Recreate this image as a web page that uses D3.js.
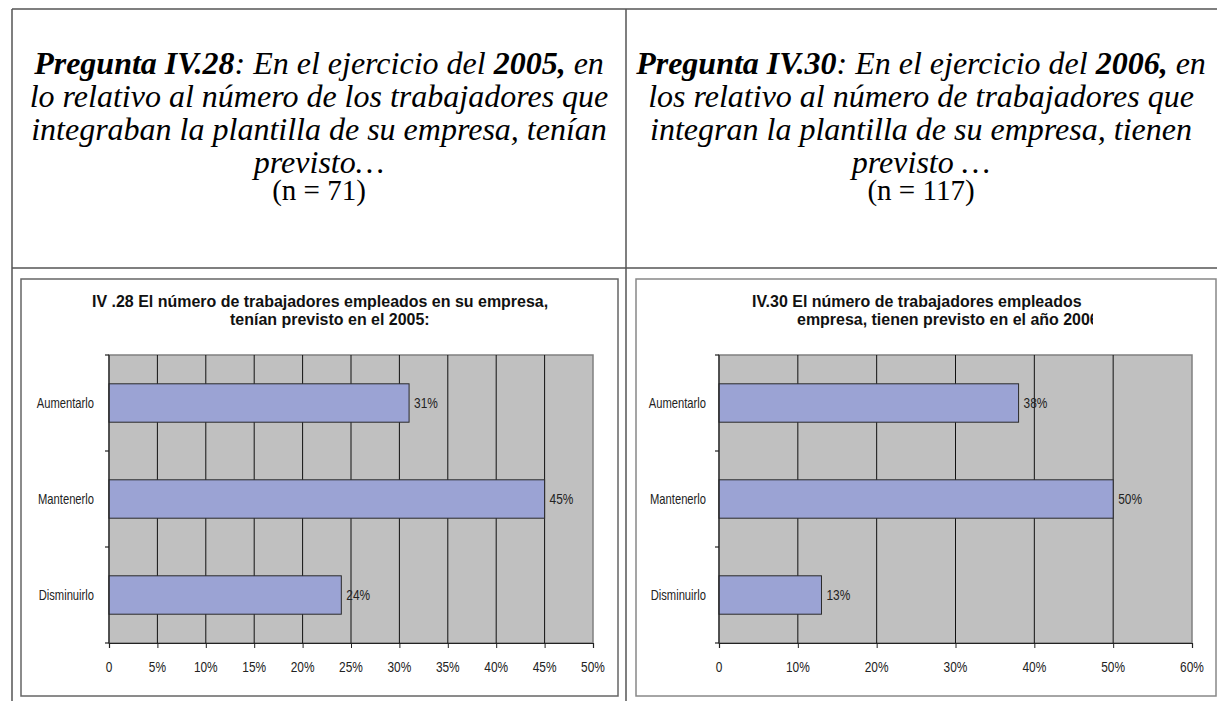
<!DOCTYPE html>
<html>
<head>
<meta charset="utf-8">
<script src="https://cdn.jsdelivr.net/npm/d3@7"></script>
<style>
  html, body { margin: 0; padding: 0; background: #fff; }
  svg { display: block; }
</style>
</head>
<body>
<svg id="page" width="1217" height="701"></svg>
<script>
// ---- data ----
const categories = ["Aumentarlo", "Mantenerlo", "Disminuirlo"];
const values2005 = [31, 45, 24];
const values2006 = [38, 50, 13];
const ticks2005 = [0, 5, 10, 15, 20, 25, 30, 35, 40, 45, 50];
const ticks2006 = [0, 10, 20, 30, 40, 50, 60];

const title2005 = ["IV .28 El número de trabajadores empleados en su empresa,", "tenían previsto en el 2005:"];
const title2006 = ["IV.30 El número de trabajadores empleados en su", "empresa, tienen previsto en el año 2006:"];

// question text: each line is a list of [text, style] runs
const question2005 = [
  [["Pregunta IV.28", "bi"], [": En el ejercicio del ", "i"], ["2005,", "bi"], [" en", "i"]],
  [["lo relativo al número de los trabajadores que", "i"]],
  [["integraban la plantilla de su empresa, tenían", "i"]],
  [["previsto…", "i"]],
  [["(n = 71)", "r"]]
];
const question2006 = [
  [["Pregunta IV.30", "bi"], [": En el ejercicio del ", "i"], ["2006,", "bi"], [" en", "i"]],
  [["los relativo al número de trabajadores que", "i"]],
  [["integran la plantilla de su empresa, tienen", "i"]],
  [["previsto …", "i"]],
  [["(n = 117)", "r"]]
];

const svg = d3.select("#page");
const SANS = "'Liberation Sans', Arial, sans-serif";
const SERIF = "'Liberation Serif', 'Times New Roman', serif";

// ---- table frame ----
const frame = svg.append("g").attr("stroke", "#555").attr("stroke-width", 1.5).attr("fill", "none");
frame.append("line").attr("x1", 12).attr("x2", 1217).attr("y1", 9).attr("y2", 9);
frame.append("line").attr("x1", 12).attr("x2", 12).attr("y1", 9).attr("y2", 701);
frame.append("line").attr("x1", 626).attr("x2", 626).attr("y1", 9).attr("y2", 701);
frame.append("line").attr("x1", 12).attr("x2", 1217).attr("y1", 268).attr("y2", 268);

// ---- question headings (one text block per cell, one tspan row per line) ----
function drawQuestion(lines, cx) {
  const baselines = [74, 107, 140, 173, 200];
  const t = svg.append("text")
    .attr("text-anchor", "middle")
    .attr("font-family", SERIF)
    .attr("fill", "#000");
  lines.forEach((runs, i) => {
    const row = t.append("tspan").attr("x", cx).attr("y", baselines[i]);
    runs.forEach(([txt, st]) => {
      row.append("tspan")
        .attr("font-size", st === "r" ? 29 : 32)
        .attr("font-style", st === "r" ? "normal" : "italic")
        .attr("font-weight", st === "bi" ? "bold" : "normal")
        .style("white-space", "pre")
        .text(txt);
    });
  });
}
drawQuestion(question2005, 319);
drawQuestion(question2006, 921);

// text inside the charts is horizontally condensed
function cText(g, x, y, str, opts = {}) {
  const sx = opts.sx || 0.85;
  return g.append("text")
    .attr("transform", `translate(${x},${y}) scale(${sx},1)`)
    .attr("text-anchor", opts.anchor || "start")
    .attr("font-family", SANS)
    .attr("font-size", opts.size || 14)
    .attr("font-weight", opts.weight || "normal")
    .attr("fill", opts.fill || "#222")
    .text(str);
}

// ---- bar chart ----
function drawChart(cfg) {
  const g = svg.append("g");
  // chart box
  g.append("rect")
    .attr("x", cfg.box[0]).attr("y", cfg.box[1])
    .attr("width", cfg.box[2] - cfg.box[0]).attr("height", cfg.box[3] - cfg.box[1])
    .attr("fill", "#fff").attr("stroke", cfg.boxStroke).attr("stroke-width", 1.5);

  // title lines, each clipped at the chart's title edge
  cfg.title.forEach((line, i) => {
    const clipId = `clip-${cfg.id}-${i}`;
    svg.append("clipPath").attr("id", clipId)
      .append("rect").attr("x", cfg.box[0]).attr("y", cfg.box[1])
      .attr("width", cfg.titleClip[i] - cfg.box[0]).attr("height", 60);
    const tg = g.append("g").attr("clip-path", `url(#${clipId})`);
    cText(tg, cfg.titleX[i], 307 + i * 18, line, { size: 17, weight: "bold", fill: "#111", sx: 0.94 });
  });

  const x = d3.scaleLinear().domain([0, d3.max(cfg.ticks)]).range([cfg.plot[0], cfg.plot[2]]);
  const y = d3.scaleBand().domain(categories).range([cfg.plot[1], cfg.plot[3]])
    .paddingInner(0.6).paddingOuter(0.3);

  // plot area
  g.append("rect")
    .attr("x", x(0)).attr("y", cfg.plot[1])
    .attr("width", x(d3.max(cfg.ticks)) - x(0)).attr("height", cfg.plot[3] - cfg.plot[1])
    .attr("fill", "#c0c0c0").attr("stroke", "#808080").attr("stroke-width", 1.5);

  // vertical gridlines
  g.append("g").selectAll("line")
    .data(cfg.ticks.filter(t => t > 0 && t < d3.max(cfg.ticks)))
    .join("line")
    .attr("x1", d => x(d)).attr("x2", d => x(d))
    .attr("y1", cfg.plot[1]).attr("y2", cfg.plot[3])
    .attr("stroke", "#111").attr("stroke-width", 1);

  // bars
  g.append("g").selectAll("rect")
    .data(categories.map((c, i) => ({ c, v: cfg.values[i] })))
    .join("rect")
    .attr("x", x(0)).attr("y", d => y(d.c))
    .attr("width", d => x(d.v) - x(0)).attr("height", y.bandwidth())
    .attr("fill", "#9ba3d4").attr("stroke", "#2a2a2a").attr("stroke-width", 1);

  // value labels
  categories.forEach((c, i) => {
    cText(g, x(cfg.values[i]) + 5, y(c) + y.bandwidth() / 2 + 5, cfg.values[i] + "%", { size: 14 });
  });

  // x axis
  const xAxis = d3.axisBottom(x).tickValues(cfg.ticks).tickSize(5)
    .tickFormat(d => d === 0 ? "0" : d + "%");
  const xa = g.append("g").attr("transform", `translate(0,${cfg.plot[3]})`).call(xAxis);
  xa.select(".domain").attr("stroke", "#222").attr("stroke-width", 1.2);
  xa.selectAll(".tick line").attr("stroke", "#222");
  xa.selectAll(".tick text").remove();
  cfg.ticks.forEach(t => cText(g, x(t), cfg.plot[3] + 29, t === 0 ? "0" : t + "%", { anchor: "middle", size: 14 }));

  // y axis: short ticks on category boundaries
  const ya = g.append("g");
  ya.append("line").attr("x1", x(0)).attr("x2", x(0)).attr("y1", cfg.plot[1]).attr("y2", cfg.plot[3])
    .attr("stroke", "#222").attr("stroke-width", 1.2);
  const step = y.step();
  d3.range(categories.length + 1).forEach(k => {
    const yy = cfg.plot[1] + k * step;
    ya.append("line").attr("x1", x(0) - 4).attr("x2", x(0)).attr("y1", yy).attr("y2", yy)
      .attr("stroke", "#222").attr("stroke-width", 1.2);
  });
  categories.forEach(c => {
    cText(g, x(0) - cfg.labelGap, y(c) + y.bandwidth() / 2 + 5, c, { anchor: "end", size: 14, sx: 0.8 });
  });
}

drawChart({
  id: "a", box: [21, 279, 618, 696], boxStroke: "#666",
  plot: [109, 355, 593, 643],
  values: values2005, ticks: ticks2005,
  title: title2005, titleX: [92, 230], titleClip: [618, 618],
  labelGap: 15
});
drawChart({
  id: "b", box: [636, 279, 1216, 696], boxStroke: "#888",
  plot: [719, 355, 1192, 643],
  values: values2006, ticks: ticks2006,
  title: title2006, titleX: [752, 797], titleClip: [1085, 1093],
  labelGap: 13
});
</script>
</body>
</html>
